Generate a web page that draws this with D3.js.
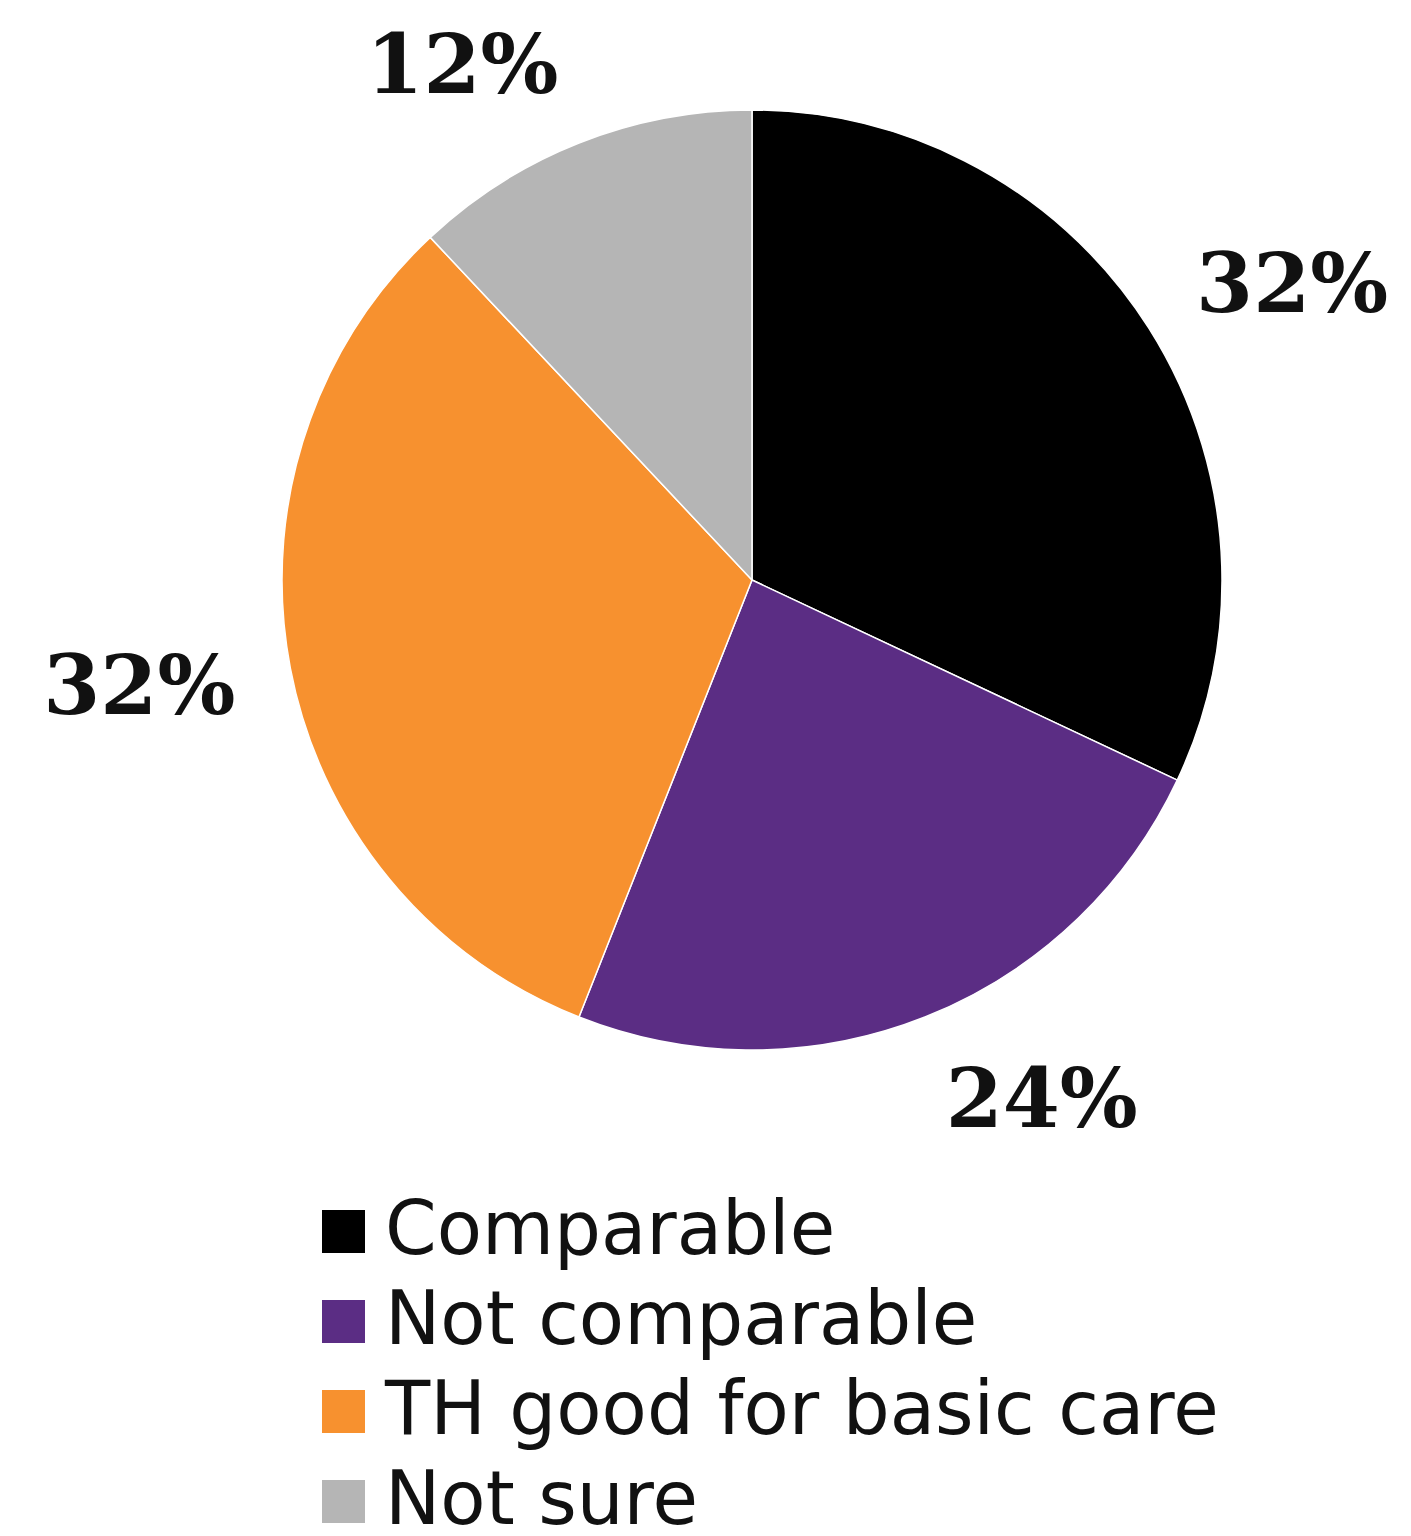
<!DOCTYPE html>
<html>
<head>
<meta charset="utf-8">
<script src="https://cdn.jsdelivr.net/npm/d3@7"></script>
<style>
  html, body { margin: 0; padding: 0; background: #fff; }
  svg { display: block; }
</style>
</head>
<body>
<svg id="chart" width="1411" height="1536"></svg>
<script>
// Survey answers and their shares (%)
const categories = ["Comparable", "Not comparable", "TH good for basic care", "Not sure"];
const values = [32, 24, 32, 12];
const colors = ["#000000", "#5b2d84", "#f7912f", "#b5b5b5"];

const width = 1411, height = 1536;
const cx = 752, cy = 580, R = 470;

const svg = d3.select("#chart");
const data = categories.map((c, i) => ({ name: c, value: values[i], color: colors[i] }));

const pie = d3.pie().value(d => d.value).sort(null);
const arcs = pie(data);
const arc = d3.arc().innerRadius(0).outerRadius(R);

const g = svg.append("g").attr("transform", `translate(${cx},${cy})`);

g.selectAll("path.slice")
  .data(arcs)
  .join("path")
  .attr("class", "slice")
  .attr("d", arc)
  .attr("fill", d => d.data.color)
  .attr("stroke", "#ffffff")
  .attr("stroke-width", 1.5)
  .attr("stroke-linejoin", "round");

// Percentage labels placed just outside each slice, along its mid-angle
const labelR = 526;
const labelH = 60;
g.selectAll("text.pct")
  .data(arcs)
  .join("text")
  .attr("class", "pct")
  .each(function(d) {
    const a = (d.startAngle + d.endAngle) / 2;
    const s = Math.sin(a), c = Math.cos(a);
    const ax = s * labelR, ay = -c * labelR;
    const yc = ay - c * labelH / 2;
    d3.select(this)
      .attr("x", ax)
      .attr("y", yc + labelH / 2)
      .attr("text-anchor", s >= 0 ? "start" : "end");
  })
  .attr("font-family", "'DejaVu Serif', 'Liberation Serif', serif")
  .attr("font-weight", "bold")
  .attr("font-size", 82)
  .attr("fill", "#111")
  .text(d => d.data.value + "%");

// Legend
const legend = svg.append("g").attr("transform", "translate(322,1210)");
const rowH = 90;
const item = legend.selectAll("g.item")
  .data(data)
  .join("g")
  .attr("class", "item")
  .attr("transform", (d, i) => `translate(0,${i * rowH})`);

item.append("rect")
  .attr("x", 0).attr("y", 0)
  .attr("width", 43).attr("height", 43)
  .attr("fill", d => d.color);

item.append("text")
  .attr("x", 63)
  .attr("y", 44)
  .attr("font-family", "'DejaVu Sans', Verdana, sans-serif")
  .attr("font-size", 74)
  .attr("fill", "#111")
  .text(d => d.name);
</script>
</body>
</html>
